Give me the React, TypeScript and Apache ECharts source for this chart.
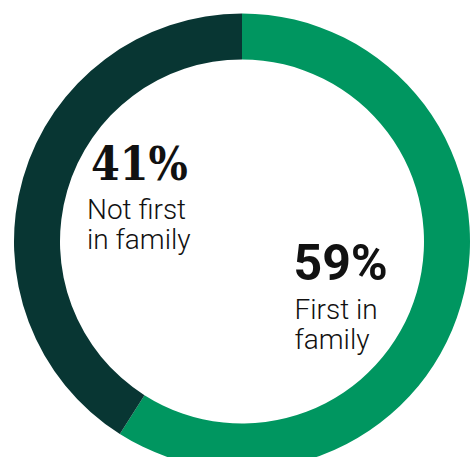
import React, { useEffect, useRef } from "react";
import * as echarts from "echarts";

const categories = ["First in family", "Not first in family"];
const values = [59, 41];
const percentLabels = ["59%", "41%"];
const labelLines = [["First in", "family"], ["Not first", "in family"]];
const colors = ["#009660", "#083633"];

export default function App() {
  const ref = useRef<HTMLDivElement>(null);
  useEffect(() => {
    document.body.style.margin = "0";
    const chart = echarts.init(ref.current!, undefined, { renderer: "svg" });
    const txt = "#111111";
    const lbl = (x: number, y: number, text: string) => ({
      type: "text", x, y,
      style: { text, fontFamily: "Roboto", fontWeight: 300, fontSize: 28, fill: txt, verticalAlign: "middle", align: "left" },
    });
    chart.setOption({
      animation: false,
      series: [
        {
          type: "pie",
          center: [242, 241.5],
          radius: [182, 228],
          startAngle: 90,
          clockwise: true,
          label: { show: false },
          labelLine: { show: false },
          emphasis: { disabled: true },
          silent: true,
          itemStyle: { borderWidth: 0 },
          data: categories.map((c, i) => ({ name: c, value: values[i], itemStyle: { color: colors[i] } })),
        },
      ],
      graphic: [
        { type: "text", x: 91, y: 164.4, style: { text: percentLabels[1], fontFamily: "'DejaVu Serif Condensed', 'DejaVu Serif'", fontWeight: "bold", fontSize: 46, fill: txt, verticalAlign: "middle", align: "left" } },
        lbl(87, 209.8, labelLines[1][0]),
        lbl(87, 239.8, labelLines[1][1]),
        { type: "text", x: 293.5, y: 263, style: { text: percentLabels[0], fontFamily: "Roboto", fontWeight: "bold", fontSize: 50, fill: txt, verticalAlign: "middle", align: "left" } },
        lbl(294.5, 309.8, labelLines[0][0]),
        lbl(294.5, 339.8, labelLines[0][1]),
      ],
    });
    return () => chart.dispose();
  }, []);
  return <div ref={ref} style={{ width: 476, height: 457 }} />;
}
